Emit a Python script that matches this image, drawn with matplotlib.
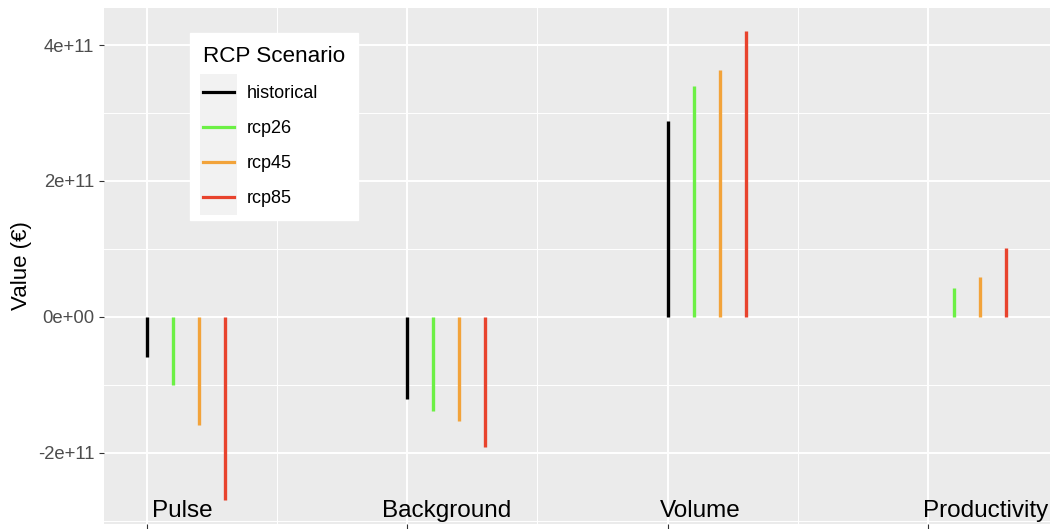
import numpy as np
import matplotlib
matplotlib.use("Agg")
import matplotlib.pyplot as plt
from matplotlib.lines import Line2D
from matplotlib.patches import Rectangle
from matplotlib.legend_handler import HandlerLine2D

plt.rcParams['font.family'] = ['Liberation Sans', 'DejaVu Sans']

# data
categories = ['Pulse', 'Background', 'Volume', 'Productivity']
scenarios = ['historical', 'rcp26', 'rcp45', 'rcp85']
historical = [-5.85e10, -1.21e11, 2.88e11, np.nan]
rcp26 = [-1.01e11, -1.39e11, 3.39e11, 4.3e10]
rcp45 = [-1.60e11, -1.54e11, 3.63e11, 5.9e10]
rcp85 = [-2.70e11, -1.92e11, 4.21e11, 1.01e11]
series = [historical, rcp26, rcp45, rcp85]

colours = ['#000000', '#6cf045', '#f2a33a', '#e8432d']
dodge = [0.0, 0.1, 0.2, 0.3]
label_x = [1.135, 2.15, 3.125, 4.22]


class KeyHandler(HandlerLine2D):
    # grey key background like ggplot's legend.key
    def create_artists(self, legend, orig_handle, xdescent, ydescent,
                       width, height, fontsize, trans):
        arts = super().create_artists(legend, orig_handle, xdescent, ydescent,
                                      width, height, fontsize, trans)
        rowh = 25.9
        cy = -ydescent + height / 2.0
        bg = Rectangle((-xdescent - 2.2, cy - rowh / 2.0), width + 4.4, rowh,
                       facecolor='#f2f2f2', edgecolor='none', transform=trans)
        return [bg] + list(arts)


W, H = 1054, 529
fig = plt.figure(figsize=(W / 100, H / 100), dpi=100)
ax = fig.add_axes([104 / W, 5 / H, (1050 - 104) / W, (524 - 8) / H])
ax.set_facecolor('#ebebeb')
for s in ax.spines.values():
    s.set_visible(False)

x = np.arange(1, len(categories) + 1)
for vals, col, off in zip(series, colours, dodge):
    v = np.array(vals)
    ok = ~np.isnan(v)
    ax.vlines(x[ok] + off, 0, v[ok], colors=col, linewidth=2.4, zorder=3)

for lx, lab in zip(label_x, categories):
    ax.text(lx, -2.94e11, lab, ha='center', va='baseline', fontsize=17.5,
            color='black', zorder=4)

ax.set_xlim(0.835, 4.469)
ax.set_ylim(-3.05e11, 4.545e11)
ax.set_xticks(x)
ax.set_xticklabels([])
ax.set_xticks([1.5, 2.5, 3.5], minor=True)
ax.set_yticks([-2e11, 0, 2e11, 4e11])
ax.set_yticklabels(['-2e+11', '0e+00', '2e+11', '4e+11'])
ax.set_yticks([-3e11, -1e11, 1e11, 3e11], minor=True)
ax.grid(which='major', color='white', linewidth=1.4, zorder=0)
ax.grid(which='minor', color='white', linewidth=0.7, zorder=0)
ax.set_axisbelow(True)
ax.tick_params(which='major', length=3.5, width=0.8, color='#333333',
               labelcolor='#4d4d4d', labelsize=13.3, pad=3.5)
ax.tick_params(which='minor', length=0)
ax.set_ylabel('Value (\u20ac)', fontsize=16, labelpad=4)

handles = [Line2D([], [], color=c, linewidth=2.3) for c in colours]
leg = ax.legend(handles, scenarios, title='RCP Scenario', loc='upper left',
                bbox_to_anchor=(190 / W, 1 - 33 / H), bbox_transform=fig.transFigure,
                borderaxespad=0, fontsize=13, title_fontsize=16.2,
                handlelength=1.72, handletextpad=0.72, labelspacing=1.0,
                borderpad=0.72, frameon=True, fancybox=False, framealpha=1,
                edgecolor='white', facecolor='white', alignment='left',
                handler_map={Line2D: KeyHandler()})
leg.set_zorder(5)

fig.savefig('out.png', dpi=100)
